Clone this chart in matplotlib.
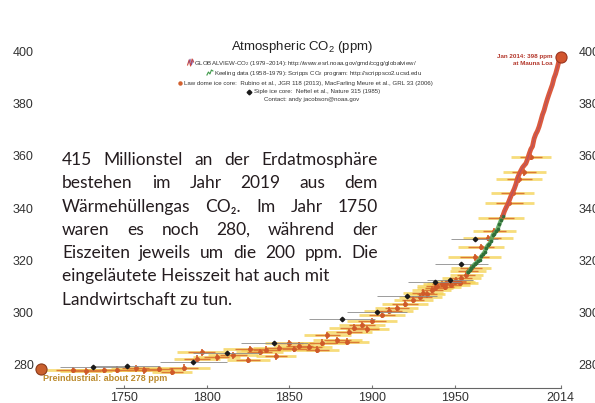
import numpy as np
import matplotlib
matplotlib.use('Agg')
import matplotlib.pyplot as plt

plt.rcParams['font.family'] = ['Liberation Sans', 'DejaVu Sans']
plt.rcParams['mathtext.default'] = 'regular'

# Law Dome ice core (year, CO2 ppm, age uncertainty in years)
law_year = [1719, 1727, 1738, 1746, 1757, 1762, 1771, 1779, 1786, 1794,
            1797, 1806, 1816, 1825, 1826, 1832, 1836, 1842, 1844, 1850,
            1853, 1856, 1862, 1867, 1870, 1873, 1879, 1885, 1886, 1889,
            1894, 1897, 1900, 1906, 1910, 1915, 1920, 1925, 1929, 1931,
            1933, 1936, 1938, 1939, 1942, 1944, 1945, 1948, 1950, 1951,
            1953, 1954, 1957, 1958, 1960, 1962, 1966, 1970, 1974, 1978,
            1983, 1985, 1989, 1992, 1996]
law_ppm = [277.7, 277.2, 277.7, 277.9, 278.4, 277.6, 278.1, 277.0, 278.6, 282.0,
           284.5, 282.6, 283.4, 281.6, 285.8, 284.6, 285.6, 283.0, 286.2, 288.0,
           285.8, 287.0, 286.6, 285.6, 288.2, 291.0, 289.2, 288.6, 292.3, 294.0,
           295.0, 293.4, 296.6, 299.0, 300.5, 301.6, 303.2, 304.8, 305.9, 307.4,
           306.8, 308.6, 309.4, 310.2, 310.8, 309.6, 311.2, 310.4, 311.6, 312.0,
           311.2, 313.0, 314.4, 315.6, 316.8, 321.0, 325.0, 328.5, 331.0, 336.0,
           342.0, 345.8, 351.0, 353.8, 359.6]
law_age_err = [18, 16, 18, 20, 15, 18, 16, 12, 16, 14,
               15, 14, 15, 13, 16, 14, 15, 12, 16, 15,
               14, 15, 14, 13, 15, 14, 15, 13, 14, 15,
               14, 13, 15, 14, 15, 13, 14, 12, 13, 12,
               11, 12, 11, 12, 11, 10, 12, 11, 12, 10,
               11, 12, 10, 11, 12, 16, 14, 15, 13, 14,
               15, 13, 14, 13, 12]

# Siple ice core
siple_year = [1731, 1752, 1792, 1812, 1841, 1882, 1903, 1921, 1938, 1947, 1954, 1962]
siple_ppm = [278.8, 279.2, 280.8, 284.4, 288.0, 297.3, 300.0, 306.0, 311.5, 312.3, 318.3, 328.0]
siple_age_err = [20, 20, 20, 20, 20, 20, 18, 18, 16, 14, 16, 14]

# Keeling / Scripps annual means 1958-1979
keeling_year = list(range(1958, 1980))
keeling_ppm = [315.3, 316.0, 316.9, 317.6, 318.4, 318.9, 319.6, 320.0, 321.4, 322.2,
               323.0, 324.6, 325.7, 326.3, 327.5, 329.7, 330.2, 331.1, 332.1, 333.8,
               335.4, 336.8]

# GLOBALVIEW-CO2 annual means 1979-2014
gv_year = list(range(1979, 2015))
gv_ppm = [336.8, 338.7, 340.1, 341.4, 343.0, 344.6, 346.0, 347.4, 349.2, 351.6,
          353.1, 354.4, 355.6, 356.4, 357.1, 358.8, 360.8, 362.6, 363.7, 366.7,
          368.4, 369.6, 371.3, 373.5, 375.8, 377.5, 379.8, 381.9, 383.8, 385.6,
          387.4, 389.9, 391.6, 393.9, 396.5, 397.5]

preind_year, preind_ppm = 1700, 278
mlo_year, mlo_ppm = 2014, 398

y_ticks = [280, 300, 320, 340, 360, 380, 400]
x_ticks = [1750, 1800, 1850, 1900, 1950, 2014]

source_lines = [
    'GLOBALVIEW-CO$_2$ (1979–2014): http://www.esrl.noaa.gov/gmd/ccgg/globalview/',
    'Keeling data (1958–1979): Scripps CO$_2$ program: http://scrippsco2.ucsd.edu',
    'Law dome ice core:  Rubino et al., JGR 118 (2013), MacFarling Meure et al., GRL 33 (2006)',
    'Siple ice core:  Neftel et al., Nature 315 (1985)',
    'Contact: andy jacobson@noaa.gov',
]

note_lines = [
    '415 Millionstel an der Erdatmosphäre',
    'bestehen im Jahr 2019 aus dem',
    'Wärmehüllengas CO₂. Im Jahr 1750',
    'waren es noch 280, während der',
    'Eiszeiten jeweils um die 200 ppm. Die',
    'eingeläutete Heisszeit hat auch mit',
    'Landwirtschaft zu tun.',
]
note_justified = [True, True, True, True, True, False, False]

W, H = 595, 403


def fx(px):
    return px / W


def fy(py):
    return 1 - py / H


fig = plt.figure(figsize=(W / 100, H / 100), dpi=100)
ax = fig.add_axes([fx(40), 15 / H, 532 / W, 348 / H])
ax.set_xlim(1699.2, 2020.9)
ax.set_ylim(270.8, 404.6)

for side in ('left', 'right', 'top'):
    ax.spines[side].set_visible(False)
ax.spines['bottom'].set_bounds(1745, 2014)
ax.spines['bottom'].set_color('#666666')
ax.spines['bottom'].set_linewidth(0.8)

ax.set_yticks(y_ticks)
ax.tick_params(axis='y', length=0, labelleft=True, labelright=True, pad=4.5,
               labelsize=9, labelcolor='#333333')
ax.set_xticks(x_ticks)
ax.tick_params(axis='x', direction='in', length=2, color='#777777', pad=3,
               labelsize=9, labelcolor='#333333')

ly = np.array(law_year, float)
lp = np.array(law_ppm, float)
le = np.array(law_age_err, float)

# Law Dome: yellow age bars, orange core bars, small vertical bars and dots
ax.hlines(lp, ly - le, ly + le, color='#f5d45a', lw=2.0, alpha=0.8, zorder=2)
ax.hlines(lp, ly - 0.55 * le, ly + 0.55 * le, color='#dc7a36', lw=1.0, zorder=3)
ax.vlines(ly, lp - 1.3, lp + 1.3, color='#d2602e', lw=1.2, zorder=3)
ax.plot(ly, lp, 'o', ms=2.5, color='#cf5a2a', zorder=4)

sy = np.array(siple_year, float)
sp = np.array(siple_ppm, float)
se = np.array(siple_age_err, float)
ax.hlines(sp, sy - se, sy + se, color='#8c8c8c', lw=0.6, zorder=5)
ax.plot(sy, sp, 'D', ms=2.3, color='#1a1a1a', zorder=6)

ax.plot(keeling_year, keeling_ppm, color='#5aa35a', lw=3, alpha=0.9, zorder=5,
        solid_capstyle='round')
ax.plot(keeling_year, keeling_ppm, 'o', ms=1.6, color='#2f6f3a', zorder=6)

ax.plot(gv_year, gv_ppm, color='#dc5a3c', lw=3.5, zorder=5, solid_capstyle='round')
ax.plot(gv_year, gv_ppm, color='#9a4c7a', lw=0.6, alpha=0.7, zorder=6)

ax.plot(mlo_year, mlo_ppm, 'o', ms=8, mfc='#d2552e', mec='#9a3520', mew=0.8,
        zorder=7, clip_on=False)
ax.plot(preind_year, preind_ppm, 'o', ms=8, mfc='#c9602e', mec='#8a3a1a', mew=0.8,
        zorder=7, clip_on=False)

ax.annotate('Jan 2014: 398 ppm\nat Mauna Loa', xy=(mlo_year, mlo_ppm),
            xytext=(-6, -2), textcoords='offset points', ha='right', va='center',
            fontsize=4.5, color='#b3362a', weight='bold', linespacing=1.3)
ax.annotate('Preindustrial: about 278 ppm', xy=(preind_year, preind_ppm),
            xytext=(1, -7), textcoords='offset points', ha='left', va='center',
            fontsize=6.5, color='#bb8a2c', weight='bold', annotation_clip=False)

# header block with data sources
fig.text(fx(302), fy(47), 'Atmospheric CO$_2$ (ppm)', ha='center', va='center',
         fontsize=9.5, color='#222222')
src_x = [305, 318, 308, 317, 312]
src_y = [63, 73, 83, 92, 100]
renderer = fig.canvas.get_renderer()
src_left = []
for line, cx, cy in zip(source_lines, src_x, src_y):
    t = fig.text(fx(cx), fy(cy), line, ha='center', va='center',
                 fontsize=4.4, color='#333333')
    src_left.append(t.get_window_extent(renderer).x0)

# legend glyphs just left of each source line
gx = src_left[0] - 6
fig.add_artist(plt.Line2D([fx(gx), fx(gx + 1.5), fx(gx + 3), fx(gx + 4.5), fx(gx + 6)],
                          [fy(65), fy(60), fy(66), fy(59), fy(62)],
                          color='#d04a3a', lw=0.8))
fig.add_artist(plt.Line2D([fx(gx + 1), fx(gx + 2.5), fx(gx + 4), fx(gx + 5.5)],
                          [fy(63), fy(59), fy(65), fy(60)],
                          color='#7a4a9a', lw=0.5))
gx = src_left[1] - 7
fig.add_artist(plt.Line2D([fx(gx), fx(gx + 1.5), fx(gx + 3), fx(gx + 4.5), fx(gx + 6)],
                          [fy(75), fy(72), fy(74), fy(70), fy(71)],
                          color='#3f9a4a', lw=0.8))
fig.add_artist(plt.Line2D([fx(src_left[2] - 4)], [fy(83)], marker='o', ms=2.2,
                          color='#d2602e', lw=0))
fig.add_artist(plt.Line2D([fx(src_left[3] - 5)], [fy(92)], marker='D', ms=2.4,
                          color='#1a1a1a', lw=0))

# German caption, justified between two margins
x_left, x_right = 62, 378
base0, step = 165, 23.3
note_kw = dict(fontsize=12.5, color='#241c1f', va='baseline',
               family=['Lato', 'DejaVu Sans'])
for i, (line, just) in enumerate(zip(note_lines, note_justified)):
    yb = fy(base0 + i * step)
    if not just:
        fig.text(fx(x_left), yb, line, ha='left', **note_kw)
        continue
    words = line.split(' ')
    arts = [fig.text(0, yb, w, ha='left', **note_kw) for w in words]
    widths = [a.get_window_extent(renderer).width for a in arts]
    gap = (x_right - x_left - sum(widths)) / (len(words) - 1)
    x = x_left
    for a, w in zip(arts, widths):
        a.set_x(fx(x))
        x += w + gap

fig.savefig('out.png', dpi=100)
